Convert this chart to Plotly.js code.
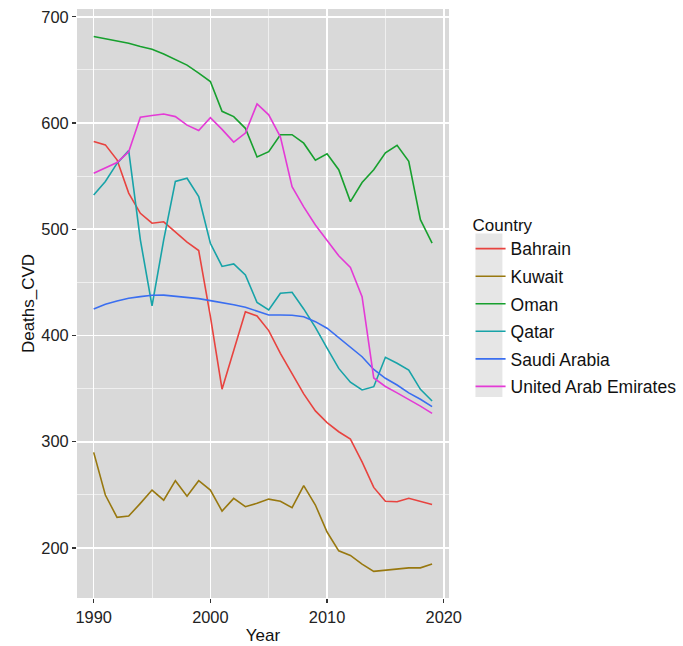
<!DOCTYPE html>
<html>
<head>
<meta charset="utf-8">
<script src="https://cdn.plot.ly/plotly-3.0.1.min.js"></script>
<style>html,body{margin:0;padding:0;background:#fff;}#chart{width:683px;height:646px;}</style>
</head>
<body>
<div id="chart"></div>
<script>
const years = [1990,1991,1992,1993,1994,1995,1996,1997,1998,1999,2000,2001,2002,2003,2004,2005,2006,2007,2008,2009,2010,2011,2012,2013,2014,2015,2016,2017,2018,2019];
const countries = ["Bahrain","Kuwait","Oman","Qatar","Saudi Arabia","United Arab Emirates"];
const bahrain = [582.6,579.4,565.3,534,515,505.7,507,497.8,487.8,480,418,349.4,386,422.4,418.4,404.6,383.2,363.5,345,329,318,309.4,302.5,281,257,244,243.5,246.7,243.5,241];
const kuwait = [290,249.8,228.8,230,242,254.5,245,263.3,248.8,263.3,254.5,234.7,246.7,238.8,242,246,244,238,258.6,240.4,215,197.3,193,184.8,178,179,180,181.3,181.3,184.8];
const oman = [681.5,679.5,677.5,675,672,669.5,665,660,654.5,647,639,611,606,595,568,573,589,589,581,565,571,556,526,544,556,572,579,564,509,487];
const qatar = [532.3,545,562,574,490,427.8,490,545,548,530.8,486.8,465,467.3,457,431,424,439.8,440.7,425,407.7,388,369,356,348.7,351.8,379.5,373.8,367.5,349.3,338.3];
const saudi = [425,429.4,432.5,435,436.6,437.9,438,437,436,434.7,432.8,431,429,426.6,423,419.3,419.3,419,417.7,413,406.8,398,388.5,380,368,359.7,353.4,346,340,333];
const uae = [552.7,557.5,562.8,573,605.5,607,608.4,606,598,593,605,594,582,590.5,618,607.7,587,540,521,504,489,475,464,436.5,360,352,346,340,333.5,326.7];
const seriesValues = [bahrain, kuwait, oman, qatar, saudi, uae];
const colors = ["#e8433f","#98780f","#17a02e","#17a3a8","#3a6ef0","#e43ad6"];
const xTicks = [1990,2000,2010,2020];
const yTicks = [200,300,400,500,600,700];

const font = "Liberation Sans, Arial, Helvetica, sans-serif";
const traces = countries.map((c,i)=>({
  type:"scatter", mode:"lines", name:c, x:years, y:seriesValues[i],
  line:{color:colors[i], width:1.6}, legendgroup:c
}));

const layout = {
  width:683, height:646,
  margin:{l:77, r:233.5, t:9, b:48, pad:0, autoexpand:false},
  paper_bgcolor:"#ffffff", plot_bgcolor:"#d9d9d9",
  font:{family:font, size:16, color:"#222"},
  showlegend:true,
  legend:{
    x:1.058, y:0.661, xanchor:"left", yanchor:"top",
    title:{text:"Country", font:{size:17, color:"#111"}},
    font:{size:17.5, color:"#111"}, bgcolor:"rgba(0,0,0,0)",
    tracegroupgap:1.8, itemwidth:30
  },
  xaxis:{
    range:[1988.57,2020.45], tickvals:xTicks, ticktext:xTicks.map(String),
    showgrid:true, gridcolor:"#ffffff", gridwidth:1.6, zeroline:false,
    ticks:"outside", ticklen:4, tickwidth:1.2, tickcolor:"#333",
    tickfont:{size:16.4, color:"#222"},
    minor:{tickvals:[1995,2005,2015], showgrid:true, gridcolor:"#f4f4f4", gridwidth:0.8, ticks:""},
    title:{text:"Year", font:{size:17, color:"#111"}, standoff:4},
    showline:false
  },
  yaxis:{
    range:[152.9,707.3], tickvals:yTicks, ticktext:yTicks.map(String),
    showgrid:true, gridcolor:"#ffffff", gridwidth:1.6, zeroline:false,
    ticks:"outside", ticklen:4, tickwidth:1.2, tickcolor:"#333",
    tickfont:{size:16.4, color:"#222"},
    minor:{tickvals:[250,350,450,550,650], showgrid:true, gridcolor:"#f4f4f4", gridwidth:0.8, ticks:""},
    title:{text:"Deaths_CVD", font:{size:17, color:"#111"}, standoff:2},
    showline:false
  },
  shapes:[{
    type:"rect", xref:"paper", yref:"paper", layer:"below",
    x0:1.0711, x1:1.1436, y0:0.3413, y1:0.6188,
    fillcolor:"#e6e6e6", line:{width:0}
  }]
};

Plotly.newPlot("chart", traces, layout, {displayModeBar:false, staticPlot:true});
</script>
</body>
</html>
